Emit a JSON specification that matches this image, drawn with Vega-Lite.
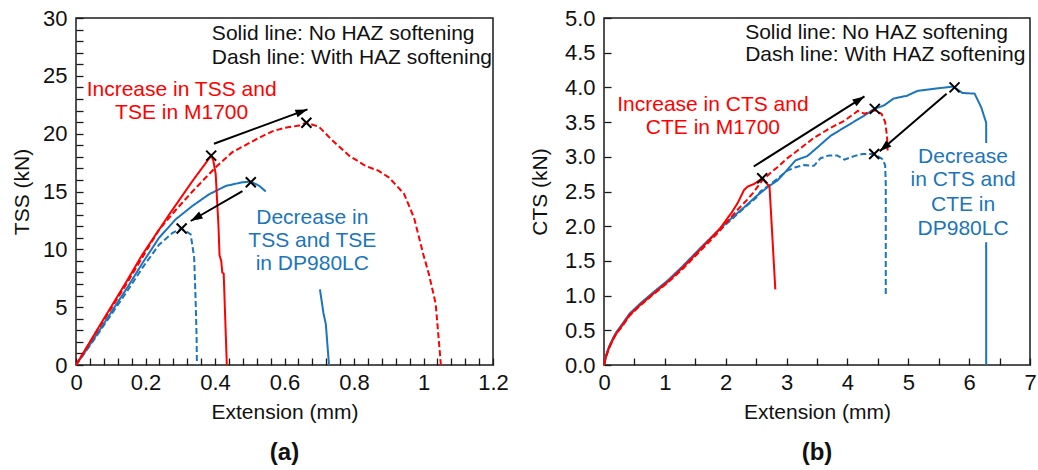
{
  "$schema": "https://vega.github.io/schema/vega-lite/v6.json",
  "padding": {"left": 10, "top": 6, "right": 5, "bottom": 5},
  "background": "white",
  "config": {
    "font": "Liberation Sans",
    "view": {"stroke": "#1a1a1a", "strokeWidth": 1.5},
    "axis": {"grid": false, "domain": false, "tickColor": "#1a1a1a", "tickWidth": 1.3, "labelFontSize": 22, "labelColor": "#111", "titleFontSize": 21, "titleFontWeight": "normal", "titleColor": "#111", "labelFlush": false, "labelOverlap": false},
    "title": {"fontSize": 24, "fontWeight": "bold", "color": "#111"},
    "concat": {"spacing": 18}
  },
  "datasets": {
    "curvesA": [
      {"x": 0, "y": 0, "mat": "DP980LC", "haz": "No HAZ softening", "seg": 1},
      {"x": 0.05, "y": 2.2, "mat": "DP980LC", "haz": "No HAZ softening", "seg": 1},
      {"x": 0.1, "y": 4.5, "mat": "DP980LC", "haz": "No HAZ softening", "seg": 1},
      {"x": 0.15, "y": 6.8, "mat": "DP980LC", "haz": "No HAZ softening", "seg": 1},
      {"x": 0.191, "y": 8.8, "mat": "DP980LC", "haz": "No HAZ softening", "seg": 1},
      {"x": 0.239, "y": 11.0, "mat": "DP980LC", "haz": "No HAZ softening", "seg": 1},
      {"x": 0.287, "y": 12.6, "mat": "DP980LC", "haz": "No HAZ softening", "seg": 1},
      {"x": 0.335, "y": 13.75, "mat": "DP980LC", "haz": "No HAZ softening", "seg": 1},
      {"x": 0.383, "y": 14.76, "mat": "DP980LC", "haz": "No HAZ softening", "seg": 1},
      {"x": 0.431, "y": 15.48, "mat": "DP980LC", "haz": "No HAZ softening", "seg": 1},
      {"x": 0.479, "y": 15.8, "mat": "DP980LC", "haz": "No HAZ softening", "seg": 1},
      {"x": 0.503, "y": 15.85, "mat": "DP980LC", "haz": "No HAZ softening", "seg": 1},
      {"x": 0.527, "y": 15.5, "mat": "DP980LC", "haz": "No HAZ softening", "seg": 1},
      {"x": 0.546, "y": 15.0, "mat": "DP980LC", "haz": "No HAZ softening", "seg": 1},
      {"x": 0.702, "y": 6.54, "mat": "DP980LC", "haz": "No HAZ softening", "seg": 2},
      {"x": 0.712, "y": 4.5, "mat": "DP980LC", "haz": "No HAZ softening", "seg": 2},
      {"x": 0.719, "y": 3.52, "mat": "DP980LC", "haz": "No HAZ softening", "seg": 2},
      {"x": 0.728, "y": 0, "mat": "DP980LC", "haz": "No HAZ softening", "seg": 2},
      {"x": 0, "y": 0, "mat": "DP980LC", "haz": "With HAZ softening", "seg": 1},
      {"x": 0.05, "y": 2.1, "mat": "DP980LC", "haz": "With HAZ softening", "seg": 1},
      {"x": 0.1, "y": 4.3, "mat": "DP980LC", "haz": "With HAZ softening", "seg": 1},
      {"x": 0.15, "y": 6.5, "mat": "DP980LC", "haz": "With HAZ softening", "seg": 1},
      {"x": 0.191, "y": 8.4, "mat": "DP980LC", "haz": "With HAZ softening", "seg": 1},
      {"x": 0.239, "y": 10.4, "mat": "DP980LC", "haz": "With HAZ softening", "seg": 1},
      {"x": 0.277, "y": 11.4, "mat": "DP980LC", "haz": "With HAZ softening", "seg": 1},
      {"x": 0.303, "y": 11.8, "mat": "DP980LC", "haz": "With HAZ softening", "seg": 1},
      {"x": 0.33, "y": 11.3, "mat": "DP980LC", "haz": "With HAZ softening", "seg": 1},
      {"x": 0.34, "y": 9.3, "mat": "DP980LC", "haz": "With HAZ softening", "seg": 1},
      {"x": 0.344, "y": 5.8, "mat": "DP980LC", "haz": "With HAZ softening", "seg": 1},
      {"x": 0.347, "y": 2.5, "mat": "DP980LC", "haz": "With HAZ softening", "seg": 1},
      {"x": 0.348, "y": 0, "mat": "DP980LC", "haz": "With HAZ softening", "seg": 1},
      {"x": 0, "y": 0, "mat": "M1700", "haz": "With HAZ softening", "seg": 1},
      {"x": 0.066, "y": 3.2, "mat": "M1700", "haz": "With HAZ softening", "seg": 1},
      {"x": 0.143, "y": 6.9, "mat": "M1700", "haz": "With HAZ softening", "seg": 1},
      {"x": 0.191, "y": 9.3, "mat": "M1700", "haz": "With HAZ softening", "seg": 1},
      {"x": 0.239, "y": 11.7, "mat": "M1700", "haz": "With HAZ softening", "seg": 1},
      {"x": 0.287, "y": 13.4, "mat": "M1700", "haz": "With HAZ softening", "seg": 1},
      {"x": 0.335, "y": 15.0, "mat": "M1700", "haz": "With HAZ softening", "seg": 1},
      {"x": 0.402, "y": 17.1, "mat": "M1700", "haz": "With HAZ softening", "seg": 1},
      {"x": 0.45, "y": 18.4, "mat": "M1700", "haz": "With HAZ softening", "seg": 1},
      {"x": 0.527, "y": 19.65, "mat": "M1700", "haz": "With HAZ softening", "seg": 1},
      {"x": 0.565, "y": 20.2, "mat": "M1700", "haz": "With HAZ softening", "seg": 1},
      {"x": 0.6, "y": 20.5, "mat": "M1700", "haz": "With HAZ softening", "seg": 1},
      {"x": 0.642, "y": 20.7, "mat": "M1700", "haz": "With HAZ softening", "seg": 1},
      {"x": 0.663, "y": 20.95, "mat": "M1700", "haz": "With HAZ softening", "seg": 1},
      {"x": 0.699, "y": 20.6, "mat": "M1700", "haz": "With HAZ softening", "seg": 1},
      {"x": 0.738, "y": 19.4, "mat": "M1700", "haz": "With HAZ softening", "seg": 1},
      {"x": 0.786, "y": 18.1, "mat": "M1700", "haz": "With HAZ softening", "seg": 1},
      {"x": 0.834, "y": 17.2, "mat": "M1700", "haz": "With HAZ softening", "seg": 1},
      {"x": 0.87, "y": 16.8, "mat": "M1700", "haz": "With HAZ softening", "seg": 1},
      {"x": 0.901, "y": 16.2, "mat": "M1700", "haz": "With HAZ softening", "seg": 1},
      {"x": 0.944, "y": 14.8, "mat": "M1700", "haz": "With HAZ softening", "seg": 1},
      {"x": 0.973, "y": 12.7, "mat": "M1700", "haz": "With HAZ softening", "seg": 1},
      {"x": 1.0, "y": 9.5, "mat": "M1700", "haz": "With HAZ softening", "seg": 1},
      {"x": 1.016, "y": 7.8, "mat": "M1700", "haz": "With HAZ softening", "seg": 1},
      {"x": 1.035, "y": 5.3, "mat": "M1700", "haz": "With HAZ softening", "seg": 1},
      {"x": 1.043, "y": 2.5, "mat": "M1700", "haz": "With HAZ softening", "seg": 1},
      {"x": 1.05, "y": 0, "mat": "M1700", "haz": "With HAZ softening", "seg": 1},
      {"x": 0, "y": 0, "mat": "M1700", "haz": "No HAZ softening", "seg": 1},
      {"x": 0.066, "y": 3.3, "mat": "M1700", "haz": "No HAZ softening", "seg": 1},
      {"x": 0.143, "y": 7.1, "mat": "M1700", "haz": "No HAZ softening", "seg": 1},
      {"x": 0.191, "y": 9.55, "mat": "M1700", "haz": "No HAZ softening", "seg": 1},
      {"x": 0.268, "y": 13.0, "mat": "M1700", "haz": "No HAZ softening", "seg": 1},
      {"x": 0.335, "y": 15.9, "mat": "M1700", "haz": "No HAZ softening", "seg": 1},
      {"x": 0.389, "y": 18.1, "mat": "M1700", "haz": "No HAZ softening", "seg": 1},
      {"x": 0.395, "y": 17.7, "mat": "M1700", "haz": "No HAZ softening", "seg": 1},
      {"x": 0.402, "y": 16.5, "mat": "M1700", "haz": "No HAZ softening", "seg": 1},
      {"x": 0.41, "y": 12.0, "mat": "M1700", "haz": "No HAZ softening", "seg": 1},
      {"x": 0.413, "y": 9.5, "mat": "M1700", "haz": "No HAZ softening", "seg": 1},
      {"x": 0.418, "y": 9.0, "mat": "M1700", "haz": "No HAZ softening", "seg": 1},
      {"x": 0.421, "y": 8.0, "mat": "M1700", "haz": "No HAZ softening", "seg": 1},
      {"x": 0.425, "y": 7.9, "mat": "M1700", "haz": "No HAZ softening", "seg": 1},
      {"x": 0.434, "y": 0, "mat": "M1700", "haz": "No HAZ softening", "seg": 1}
    ],
    "curvesB": [
      {"x": 0, "y": 0, "mat": "DP980LC", "haz": "No HAZ softening", "seg": 1},
      {"x": 0.03, "y": 0.13, "mat": "DP980LC", "haz": "No HAZ softening", "seg": 1},
      {"x": 0.08, "y": 0.26, "mat": "DP980LC", "haz": "No HAZ softening", "seg": 1},
      {"x": 0.15, "y": 0.39, "mat": "DP980LC", "haz": "No HAZ softening", "seg": 1},
      {"x": 0.2, "y": 0.47, "mat": "DP980LC", "haz": "No HAZ softening", "seg": 1},
      {"x": 0.3, "y": 0.59, "mat": "DP980LC", "haz": "No HAZ softening", "seg": 1},
      {"x": 0.42, "y": 0.74, "mat": "DP980LC", "haz": "No HAZ softening", "seg": 1},
      {"x": 0.6, "y": 0.89, "mat": "DP980LC", "haz": "No HAZ softening", "seg": 1},
      {"x": 0.8, "y": 1.04, "mat": "DP980LC", "haz": "No HAZ softening", "seg": 1},
      {"x": 1.05, "y": 1.22, "mat": "DP980LC", "haz": "No HAZ softening", "seg": 1},
      {"x": 1.3, "y": 1.43, "mat": "DP980LC", "haz": "No HAZ softening", "seg": 1},
      {"x": 1.6, "y": 1.7, "mat": "DP980LC", "haz": "No HAZ softening", "seg": 1},
      {"x": 1.9, "y": 1.96, "mat": "DP980LC", "haz": "No HAZ softening", "seg": 1},
      {"x": 2.1, "y": 2.12, "mat": "DP980LC", "haz": "No HAZ softening", "seg": 1},
      {"x": 2.3, "y": 2.27, "mat": "DP980LC", "haz": "No HAZ softening", "seg": 1},
      {"x": 2.5, "y": 2.43, "mat": "DP980LC", "haz": "No HAZ softening", "seg": 1},
      {"x": 2.7, "y": 2.57, "mat": "DP980LC", "haz": "No HAZ softening", "seg": 1},
      {"x": 2.85, "y": 2.66, "mat": "DP980LC", "haz": "No HAZ softening", "seg": 1},
      {"x": 3.0, "y": 2.8, "mat": "DP980LC", "haz": "No HAZ softening", "seg": 1},
      {"x": 3.15, "y": 2.95, "mat": "DP980LC", "haz": "No HAZ softening", "seg": 1},
      {"x": 3.34, "y": 3.01, "mat": "DP980LC", "haz": "No HAZ softening", "seg": 1},
      {"x": 3.5, "y": 3.13, "mat": "DP980LC", "haz": "No HAZ softening", "seg": 1},
      {"x": 3.72, "y": 3.3, "mat": "DP980LC", "haz": "No HAZ softening", "seg": 1},
      {"x": 4.0, "y": 3.45, "mat": "DP980LC", "haz": "No HAZ softening", "seg": 1},
      {"x": 4.27, "y": 3.59, "mat": "DP980LC", "haz": "No HAZ softening", "seg": 1},
      {"x": 4.44, "y": 3.69, "mat": "DP980LC", "haz": "No HAZ softening", "seg": 1},
      {"x": 4.6, "y": 3.74, "mat": "DP980LC", "haz": "No HAZ softening", "seg": 1},
      {"x": 4.76, "y": 3.84, "mat": "DP980LC", "haz": "No HAZ softening", "seg": 1},
      {"x": 4.98, "y": 3.88, "mat": "DP980LC", "haz": "No HAZ softening", "seg": 1},
      {"x": 5.15, "y": 3.95, "mat": "DP980LC", "haz": "No HAZ softening", "seg": 1},
      {"x": 5.42, "y": 3.98, "mat": "DP980LC", "haz": "No HAZ softening", "seg": 1},
      {"x": 5.72, "y": 4.01, "mat": "DP980LC", "haz": "No HAZ softening", "seg": 1},
      {"x": 5.76, "y": 4.0, "mat": "DP980LC", "haz": "No HAZ softening", "seg": 1},
      {"x": 5.89, "y": 3.92, "mat": "DP980LC", "haz": "No HAZ softening", "seg": 1},
      {"x": 6.09, "y": 3.91, "mat": "DP980LC", "haz": "No HAZ softening", "seg": 1},
      {"x": 6.2, "y": 3.71, "mat": "DP980LC", "haz": "No HAZ softening", "seg": 1},
      {"x": 6.28, "y": 3.49, "mat": "DP980LC", "haz": "No HAZ softening", "seg": 1},
      {"x": 6.28, "y": 3.2, "mat": "DP980LC", "haz": "No HAZ softening", "seg": 1},
      {"x": 6.28, "y": 1.77, "mat": "DP980LC", "haz": "No HAZ softening", "seg": 2},
      {"x": 6.28, "y": 0, "mat": "DP980LC", "haz": "No HAZ softening", "seg": 2},
      {"x": 0, "y": 0, "mat": "DP980LC", "haz": "With HAZ softening", "seg": 1},
      {"x": 0.03, "y": 0.12, "mat": "DP980LC", "haz": "With HAZ softening", "seg": 1},
      {"x": 0.08, "y": 0.25, "mat": "DP980LC", "haz": "With HAZ softening", "seg": 1},
      {"x": 0.15, "y": 0.38, "mat": "DP980LC", "haz": "With HAZ softening", "seg": 1},
      {"x": 0.2, "y": 0.46, "mat": "DP980LC", "haz": "With HAZ softening", "seg": 1},
      {"x": 0.3, "y": 0.58, "mat": "DP980LC", "haz": "With HAZ softening", "seg": 1},
      {"x": 0.42, "y": 0.73, "mat": "DP980LC", "haz": "With HAZ softening", "seg": 1},
      {"x": 0.6, "y": 0.88, "mat": "DP980LC", "haz": "With HAZ softening", "seg": 1},
      {"x": 0.8, "y": 1.03, "mat": "DP980LC", "haz": "With HAZ softening", "seg": 1},
      {"x": 1.05, "y": 1.21, "mat": "DP980LC", "haz": "With HAZ softening", "seg": 1},
      {"x": 1.3, "y": 1.42, "mat": "DP980LC", "haz": "With HAZ softening", "seg": 1},
      {"x": 1.6, "y": 1.69, "mat": "DP980LC", "haz": "With HAZ softening", "seg": 1},
      {"x": 1.9, "y": 1.95, "mat": "DP980LC", "haz": "With HAZ softening", "seg": 1},
      {"x": 2.1, "y": 2.1, "mat": "DP980LC", "haz": "With HAZ softening", "seg": 1},
      {"x": 2.3, "y": 2.26, "mat": "DP980LC", "haz": "With HAZ softening", "seg": 1},
      {"x": 2.5, "y": 2.41, "mat": "DP980LC", "haz": "With HAZ softening", "seg": 1},
      {"x": 2.57, "y": 2.5, "mat": "DP980LC", "haz": "With HAZ softening", "seg": 1},
      {"x": 2.8, "y": 2.65, "mat": "DP980LC", "haz": "With HAZ softening", "seg": 1},
      {"x": 3.01, "y": 2.8, "mat": "DP980LC", "haz": "With HAZ softening", "seg": 1},
      {"x": 3.15, "y": 2.85, "mat": "DP980LC", "haz": "With HAZ softening", "seg": 1},
      {"x": 3.29, "y": 2.88, "mat": "DP980LC", "haz": "With HAZ softening", "seg": 1},
      {"x": 3.45, "y": 2.87, "mat": "DP980LC", "haz": "With HAZ softening", "seg": 1},
      {"x": 3.56, "y": 2.98, "mat": "DP980LC", "haz": "With HAZ softening", "seg": 1},
      {"x": 3.7, "y": 3.02, "mat": "DP980LC", "haz": "With HAZ softening", "seg": 1},
      {"x": 3.83, "y": 3.02, "mat": "DP980LC", "haz": "With HAZ softening", "seg": 1},
      {"x": 3.95, "y": 2.96, "mat": "DP980LC", "haz": "With HAZ softening", "seg": 1},
      {"x": 4.11, "y": 3.01, "mat": "DP980LC", "haz": "With HAZ softening", "seg": 1},
      {"x": 4.25, "y": 3.04, "mat": "DP980LC", "haz": "With HAZ softening", "seg": 1},
      {"x": 4.44, "y": 3.04, "mat": "DP980LC", "haz": "With HAZ softening", "seg": 1},
      {"x": 4.57, "y": 2.97, "mat": "DP980LC", "haz": "With HAZ softening", "seg": 1},
      {"x": 4.62, "y": 2.88, "mat": "DP980LC", "haz": "With HAZ softening", "seg": 1},
      {"x": 4.63, "y": 2.6, "mat": "DP980LC", "haz": "With HAZ softening", "seg": 1},
      {"x": 4.63, "y": 1.02, "mat": "DP980LC", "haz": "With HAZ softening", "seg": 1},
      {"x": 0, "y": 0, "mat": "M1700", "haz": "With HAZ softening", "seg": 1},
      {"x": 0.03, "y": 0.11, "mat": "M1700", "haz": "With HAZ softening", "seg": 1},
      {"x": 0.08, "y": 0.24, "mat": "M1700", "haz": "With HAZ softening", "seg": 1},
      {"x": 0.15, "y": 0.37, "mat": "M1700", "haz": "With HAZ softening", "seg": 1},
      {"x": 0.2, "y": 0.45, "mat": "M1700", "haz": "With HAZ softening", "seg": 1},
      {"x": 0.3, "y": 0.56, "mat": "M1700", "haz": "With HAZ softening", "seg": 1},
      {"x": 0.42, "y": 0.71, "mat": "M1700", "haz": "With HAZ softening", "seg": 1},
      {"x": 0.6, "y": 0.86, "mat": "M1700", "haz": "With HAZ softening", "seg": 1},
      {"x": 0.8, "y": 1.01, "mat": "M1700", "haz": "With HAZ softening", "seg": 1},
      {"x": 1.05, "y": 1.19, "mat": "M1700", "haz": "With HAZ softening", "seg": 1},
      {"x": 1.3, "y": 1.39, "mat": "M1700", "haz": "With HAZ softening", "seg": 1},
      {"x": 1.6, "y": 1.66, "mat": "M1700", "haz": "With HAZ softening", "seg": 1},
      {"x": 1.9, "y": 1.93, "mat": "M1700", "haz": "With HAZ softening", "seg": 1},
      {"x": 2.0, "y": 2.04, "mat": "M1700", "haz": "With HAZ softening", "seg": 1},
      {"x": 2.2, "y": 2.24, "mat": "M1700", "haz": "With HAZ softening", "seg": 1},
      {"x": 2.35, "y": 2.38, "mat": "M1700", "haz": "With HAZ softening", "seg": 1},
      {"x": 2.45, "y": 2.48, "mat": "M1700", "haz": "With HAZ softening", "seg": 1},
      {"x": 2.61, "y": 2.67, "mat": "M1700", "haz": "With HAZ softening", "seg": 1},
      {"x": 2.75, "y": 2.78, "mat": "M1700", "haz": "With HAZ softening", "seg": 1},
      {"x": 2.85, "y": 2.85, "mat": "M1700", "haz": "With HAZ softening", "seg": 1},
      {"x": 3.0, "y": 2.97, "mat": "M1700", "haz": "With HAZ softening", "seg": 1},
      {"x": 3.18, "y": 3.09, "mat": "M1700", "haz": "With HAZ softening", "seg": 1},
      {"x": 3.46, "y": 3.28, "mat": "M1700", "haz": "With HAZ softening", "seg": 1},
      {"x": 3.73, "y": 3.42, "mat": "M1700", "haz": "With HAZ softening", "seg": 1},
      {"x": 3.95, "y": 3.52, "mat": "M1700", "haz": "With HAZ softening", "seg": 1},
      {"x": 4.17, "y": 3.66, "mat": "M1700", "haz": "With HAZ softening", "seg": 1},
      {"x": 4.28, "y": 3.62, "mat": "M1700", "haz": "With HAZ softening", "seg": 1},
      {"x": 4.44, "y": 3.67, "mat": "M1700", "haz": "With HAZ softening", "seg": 1},
      {"x": 4.56, "y": 3.62, "mat": "M1700", "haz": "With HAZ softening", "seg": 1},
      {"x": 4.62, "y": 3.5, "mat": "M1700", "haz": "With HAZ softening", "seg": 1},
      {"x": 4.65, "y": 3.3, "mat": "M1700", "haz": "With HAZ softening", "seg": 1},
      {"x": 4.66, "y": 3.09, "mat": "M1700", "haz": "With HAZ softening", "seg": 1},
      {"x": 0, "y": 0, "mat": "M1700", "haz": "No HAZ softening", "seg": 1},
      {"x": 0.03, "y": 0.11, "mat": "M1700", "haz": "No HAZ softening", "seg": 1},
      {"x": 0.08, "y": 0.24, "mat": "M1700", "haz": "No HAZ softening", "seg": 1},
      {"x": 0.15, "y": 0.37, "mat": "M1700", "haz": "No HAZ softening", "seg": 1},
      {"x": 0.2, "y": 0.45, "mat": "M1700", "haz": "No HAZ softening", "seg": 1},
      {"x": 0.3, "y": 0.57, "mat": "M1700", "haz": "No HAZ softening", "seg": 1},
      {"x": 0.42, "y": 0.72, "mat": "M1700", "haz": "No HAZ softening", "seg": 1},
      {"x": 0.6, "y": 0.87, "mat": "M1700", "haz": "No HAZ softening", "seg": 1},
      {"x": 0.8, "y": 1.02, "mat": "M1700", "haz": "No HAZ softening", "seg": 1},
      {"x": 1.05, "y": 1.2, "mat": "M1700", "haz": "No HAZ softening", "seg": 1},
      {"x": 1.3, "y": 1.41, "mat": "M1700", "haz": "No HAZ softening", "seg": 1},
      {"x": 1.6, "y": 1.68, "mat": "M1700", "haz": "No HAZ softening", "seg": 1},
      {"x": 1.9, "y": 1.96, "mat": "M1700", "haz": "No HAZ softening", "seg": 1},
      {"x": 2.0, "y": 2.08, "mat": "M1700", "haz": "No HAZ softening", "seg": 1},
      {"x": 2.1, "y": 2.2, "mat": "M1700", "haz": "No HAZ softening", "seg": 1},
      {"x": 2.2, "y": 2.34, "mat": "M1700", "haz": "No HAZ softening", "seg": 1},
      {"x": 2.3, "y": 2.52, "mat": "M1700", "haz": "No HAZ softening", "seg": 1},
      {"x": 2.36, "y": 2.57, "mat": "M1700", "haz": "No HAZ softening", "seg": 1},
      {"x": 2.47, "y": 2.61, "mat": "M1700", "haz": "No HAZ softening", "seg": 1},
      {"x": 2.6, "y": 2.69, "mat": "M1700", "haz": "No HAZ softening", "seg": 1},
      {"x": 2.72, "y": 2.57, "mat": "M1700", "haz": "No HAZ softening", "seg": 1},
      {"x": 2.815, "y": 1.09, "mat": "M1700", "haz": "No HAZ softening", "seg": 1}
    ],
    "arrowsA": [
      {"id": 1, "x": 0.397, "y": 19.13, "x2": 0.666, "y2": 22.1},
      {"id": 2, "x": 0.479, "y": 15.04, "x2": 0.33, "y2": 12.45}
    ],
    "arrowsB": [
      {"id": 1, "x": 2.46, "y": 2.86, "x2": 4.28, "y2": 3.87},
      {"id": 2, "x": 5.63, "y": 3.91, "x2": 4.53, "y2": 3.08}
    ],
    "peaksA": [
      {"x": 0.389, "y": 18.1},
      {"x": 0.663, "y": 20.95},
      {"x": 0.503, "y": 15.8},
      {"x": 0.304, "y": 11.8}
    ],
    "peaksB": [
      {"x": 2.6, "y": 2.69},
      {"x": 4.45, "y": 3.69},
      {"x": 5.76, "y": 4.0},
      {"x": 4.44, "y": 3.04}
    ],
    "notesA": [
      {"x": 0.391, "y": 28.6, "t": "Solid line: No HAZ softening"},
      {"x": 0.391, "y": 26.5, "t": "Dash line: With HAZ softening"}
    ],
    "notesB": [
      {"x": 2.32, "y": 4.79, "t": "Solid line: No HAZ softening"},
      {"x": 2.32, "y": 4.46, "t": "Dash line: With HAZ softening"}
    ],
    "labelsA": [
      {"x": 0.304, "y": 23.8, "t": "Increase in TSS and", "mat": "M1700"},
      {"x": 0.304, "y": 21.8, "t": "TSE in M1700", "mat": "M1700"},
      {"x": 0.68, "y": 12.68, "t": "Decrease in", "mat": "DP980LC"},
      {"x": 0.68, "y": 10.72, "t": "TSS and TSE", "mat": "DP980LC"},
      {"x": 0.68, "y": 8.7, "t": "in DP980LC", "mat": "DP980LC"}
    ],
    "labelsB": [
      {"x": 1.79, "y": 3.74, "t": "Increase in CTS and", "mat": "M1700"},
      {"x": 1.79, "y": 3.42, "t": "CTE in M1700", "mat": "M1700"},
      {"x": 5.9, "y": 2.99, "t": "Decrease", "mat": "DP980LC"},
      {"x": 5.9, "y": 2.66, "t": "in CTS and", "mat": "DP980LC"},
      {"x": 5.9, "y": 2.31, "t": "CTE in", "mat": "DP980LC"},
      {"x": 5.9, "y": 1.96, "t": "DP980LC", "mat": "DP980LC"}
    ]
  },
  "hconcat": [
    {
      "width": 417,
      "height": 347,
      "title": {"text": "(a)", "orient": "bottom", "offset": 19},
      "resolve": {"axis": {"x": "independent", "y": "independent"}},
      "layer": [
        {
          "data": {"name": "curvesA"},
          "mark": {"type": "line", "strokeWidth": 2},
          "encoding": {
            "x": {"field": "x", "type": "quantitative", "scale": {"domain": [0, 1.2], "nice": false},
              "axis": {"title": "Extension (mm)", "orient": "bottom", "values": [0, 0.2, 0.4, 0.6, 0.8, 1, 1.2], "format": "~g", "ticks": false, "tickSize": 0, "labelPadding": 7, "titlePadding": 8}},
            "y": {"field": "y", "type": "quantitative", "scale": {"domain": [0, 30], "nice": false},
              "axis": {"title": "TSS (kN)", "orient": "left", "values": [0, 5, 10, 15, 20, 25, 30], "format": "d", "ticks": false, "tickSize": 0, "labelPadding": 9, "titlePadding": 10}},
            "color": {"field": "mat", "type": "nominal", "scale": {"domain": ["M1700", "DP980LC"], "range": ["#ff0000", "#1b75bc"]}, "legend": null},
            "strokeDash": {"field": "haz", "type": "nominal", "scale": {"domain": ["No HAZ softening", "With HAZ softening"], "range": [[1, 0], [6, 3]]}, "legend": null},
            "detail": {"field": "seg", "type": "nominal"},
            "order": {"value": null}
          }
        },
        {
          "data": {"name": "arrowsA"},
          "mark": {"type": "rule", "color": "#000", "strokeWidth": 2},
          "encoding": {
            "x": {"field": "x", "type": "quantitative", "axis": null},
            "y": {"field": "y", "type": "quantitative", "axis": null},
            "x2": {"field": "x2"},
            "y2": {"field": "y2"}
          }
        },
        {
          "data": {"name": "arrowsA"},
          "transform": [{"filter": "datum.id == 1"}],
          "mark": {"type": "point", "shape": "M0,0L-0.5,1.5L0.5,1.5Z", "filled": true, "color": "#000", "opacity": 1, "size": 256, "angle": 69.7},
          "encoding": {"x": {"field": "x2", "type": "quantitative", "axis": null}, "y": {"field": "y2", "type": "quantitative", "axis": null}}
        },
        {
          "data": {"name": "arrowsA"},
          "transform": [{"filter": "datum.id == 2"}],
          "mark": {"type": "point", "shape": "M0,0L-0.5,1.5L0.5,1.5Z", "filled": true, "color": "#000", "opacity": 1, "size": 256, "angle": 240},
          "encoding": {"x": {"field": "x2", "type": "quantitative", "axis": null}, "y": {"field": "y2", "type": "quantitative", "axis": null}}
        },
        {
          "data": {"name": "peaksA"},
          "mark": {"type": "point", "shape": "M-1,-1L1,1M-1,1L1,-1", "filled": false, "stroke": "#000", "strokeWidth": 2, "opacity": 1, "size": 100},
          "encoding": {
            "x": {"field": "x", "type": "quantitative",
              "axis": {"title": null, "orient": "bottom", "labels": false, "ticks": true, "tickSize": 7, "offset": -7,
                "values": [0,0.04,0.08,0.12,0.16,0.2,0.24,0.28,0.32,0.36,0.4,0.44,0.48,0.52,0.56,0.6,0.64,0.68,0.72,0.76,0.8,0.84,0.88,0.92,0.96,1,1.04,1.08,1.12,1.16,1.2]}},
            "y": {"field": "y", "type": "quantitative",
              "axis": {"title": null, "orient": "left", "labels": false, "ticks": true, "tickSize": 7, "offset": -7,
                "values": [0,1,2,3,4,5,6,7,8,9,10,11,12,13,14,15,16,17,18,19,20,21,22,23,24,25,26,27,28,29,30]}}
          }
        },
        {
          "data": {"name": "notesA"},
          "mark": {"type": "text", "align": "left", "baseline": "middle", "fontSize": 21, "color": "#111"},
          "encoding": {"x": {"field": "x", "type": "quantitative", "axis": null}, "y": {"field": "y", "type": "quantitative", "axis": null}, "text": {"field": "t"}}
        },
        {
          "data": {"name": "labelsA"},
          "mark": {"type": "text", "align": "center", "baseline": "middle", "fontSize": 21},
          "encoding": {"x": {"field": "x", "type": "quantitative", "axis": null}, "y": {"field": "y", "type": "quantitative", "axis": null}, "text": {"field": "t"},
            "color": {"field": "mat", "type": "nominal", "scale": {"domain": ["M1700", "DP980LC"], "range": ["#ff0000", "#1b75bc"]}, "legend": null}}
        }
      ]
    },
    {
      "width": 426,
      "height": 347,
      "title": {"text": "(b)", "orient": "bottom", "offset": 19},
      "resolve": {"axis": {"x": "independent", "y": "independent"}},
      "layer": [
        {
          "data": {"name": "curvesB"},
          "mark": {"type": "line", "strokeWidth": 2},
          "encoding": {
            "x": {"field": "x", "type": "quantitative", "scale": {"domain": [0, 7], "nice": false},
              "axis": {"title": "Extension (mm)", "orient": "bottom", "values": [0, 1, 2, 3, 4, 5, 6, 7], "format": "d", "ticks": false, "tickSize": 0, "labelPadding": 7, "titlePadding": 8}},
            "y": {"field": "y", "type": "quantitative", "scale": {"domain": [0, 5], "nice": false},
              "axis": {"title": "CTS (kN)", "orient": "left", "values": [0, 0.5, 1, 1.5, 2, 2.5, 3, 3.5, 4, 4.5, 5], "format": ".1f", "ticks": false, "tickSize": 0, "labelPadding": 9, "titlePadding": 14}},
            "color": {"field": "mat", "type": "nominal", "scale": {"domain": ["M1700", "DP980LC"], "range": ["#ff0000", "#1b75bc"]}, "legend": null},
            "strokeDash": {"field": "haz", "type": "nominal", "scale": {"domain": ["No HAZ softening", "With HAZ softening"], "range": [[1, 0], [6, 3]]}, "legend": null},
            "detail": {"field": "seg", "type": "nominal"},
            "order": {"value": null}
          }
        },
        {
          "data": {"name": "arrowsB"},
          "mark": {"type": "rule", "color": "#000", "strokeWidth": 2},
          "encoding": {
            "x": {"field": "x", "type": "quantitative", "axis": null},
            "y": {"field": "y", "type": "quantitative", "axis": null},
            "x2": {"field": "x2"},
            "y2": {"field": "y2"}
          }
        },
        {
          "data": {"name": "arrowsB"},
          "transform": [{"filter": "datum.id == 1"}],
          "mark": {"type": "point", "shape": "M0,0L-0.5,1.5L0.5,1.5Z", "filled": true, "color": "#000", "opacity": 1, "size": 256, "angle": 57.7},
          "encoding": {"x": {"field": "x2", "type": "quantitative", "axis": null}, "y": {"field": "y2", "type": "quantitative", "axis": null}}
        },
        {
          "data": {"name": "arrowsB"},
          "transform": [{"filter": "datum.id == 2"}],
          "mark": {"type": "point", "shape": "M0,0L-0.5,1.5L0.5,1.5Z", "filled": true, "color": "#000", "opacity": 1, "size": 256, "angle": 229.3},
          "encoding": {"x": {"field": "x2", "type": "quantitative", "axis": null}, "y": {"field": "y2", "type": "quantitative", "axis": null}}
        },
        {
          "data": {"name": "peaksB"},
          "mark": {"type": "point", "shape": "M-1,-1L1,1M-1,1L1,-1", "filled": false, "stroke": "#000", "strokeWidth": 2, "opacity": 1, "size": 100},
          "encoding": {
            "x": {"field": "x", "type": "quantitative",
              "axis": {"title": null, "orient": "bottom", "labels": false, "ticks": true, "tickSize": 7, "offset": -7,
                "values": [0,0.5,1,1.5,2,2.5,3,3.5,4,4.5,5,5.5,6,6.5,7]}},
            "y": {"field": "y", "type": "quantitative",
              "axis": {"title": null, "orient": "left", "labels": false, "ticks": true, "tickSize": 7, "offset": -7,
                "values": [0,0.5,1,1.5,2,2.5,3,3.5,4,4.5,5]}}
          }
        },
        {
          "data": {"name": "notesB"},
          "mark": {"type": "text", "align": "left", "baseline": "middle", "fontSize": 21, "color": "#111"},
          "encoding": {"x": {"field": "x", "type": "quantitative", "axis": null}, "y": {"field": "y", "type": "quantitative", "axis": null}, "text": {"field": "t"}}
        },
        {
          "data": {"name": "labelsB"},
          "mark": {"type": "text", "align": "center", "baseline": "middle", "fontSize": 21},
          "encoding": {"x": {"field": "x", "type": "quantitative", "axis": null}, "y": {"field": "y", "type": "quantitative", "axis": null}, "text": {"field": "t"},
            "color": {"field": "mat", "type": "nominal", "scale": {"domain": ["M1700", "DP980LC"], "range": ["#ff0000", "#1b75bc"]}, "legend": null}}
        }
      ]
    }
  ]
}
